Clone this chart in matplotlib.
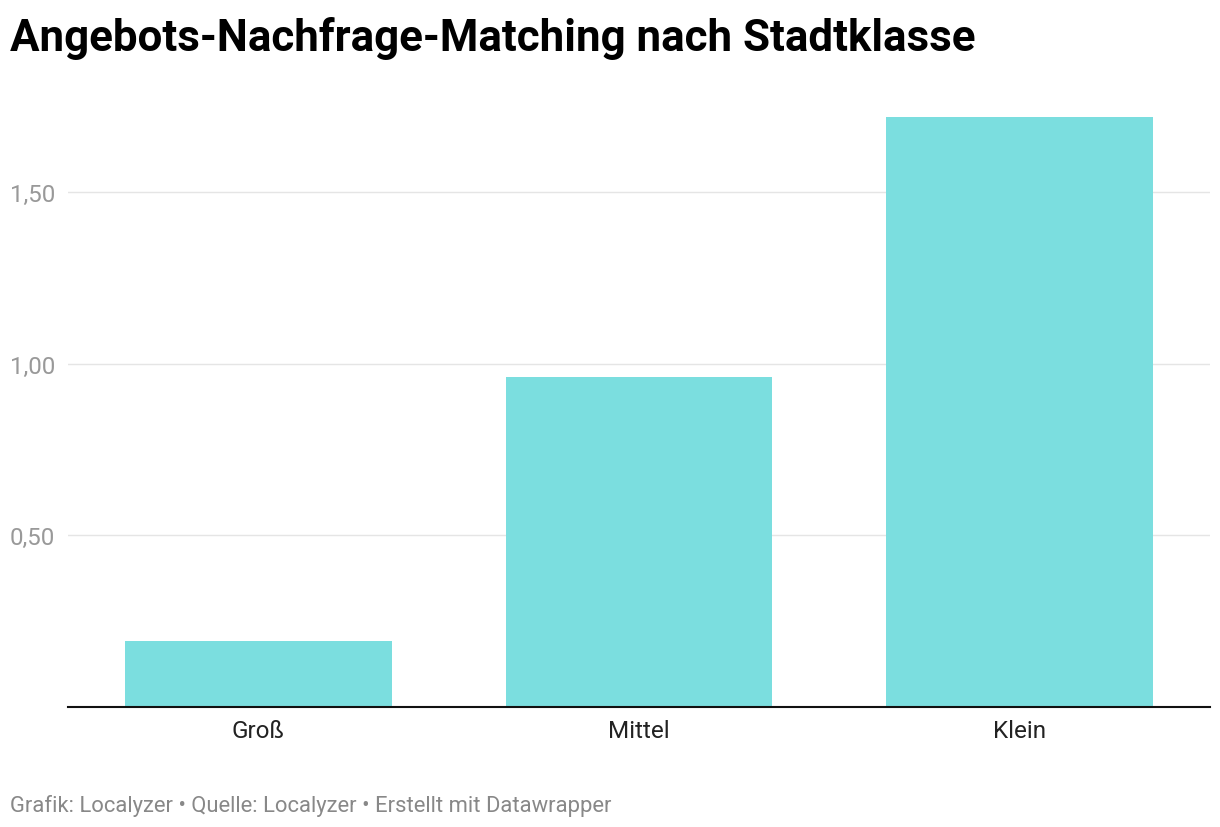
import matplotlib.pyplot as plt

# Data
categories = ['Groß', 'Mittel', 'Klein']
values = [0.19, 0.96, 1.72]
y_ticks = [0.5, 1.0, 1.5]
y_tick_labels = ['0,50', '1,00', '1,50']

plt.rcParams['font.family'] = ['Roboto', 'DejaVu Sans']

fig = plt.figure(figsize=(12.2, 8.28), dpi=100)
ax = fig.add_axes([68 / 1220, 1 - 707.5 / 828, (1210 - 68) / 1220, (707.5 - 100) / 828])

ax.bar(range(len(categories)), values, width=0.7, color='#7bdedf', zorder=2)
ax.set_xlim(-0.5, 2.5)
ax.set_ylim(0, 607.5 / 343)

# grid lines
ax.set_yticks(y_ticks)
ax.set_yticklabels(y_tick_labels, color='#999999', fontsize=17.4, ha='left')
ax.tick_params(axis='y', length=0, pad=41.8)
ax.grid(axis='y', color='#e5e5e5', linewidth=1.0, zorder=0)

ax.set_xticks(range(len(categories)))
ax.set_xticklabels(categories, color='#222222', fontsize=17.5)
ax.tick_params(axis='x', length=0, pad=9)

for side in ['top', 'right', 'left']:
    ax.spines[side].set_visible(False)
ax.spines['bottom'].set_color('#111111')
ax.spines['bottom'].set_linewidth(1.5)
ax.spines['bottom'].set_zorder(3)

fig.text(10 / 1220, 1 - 51 / 828, 'Angebots-Nachfrage-Matching nach Stadtklasse',
         fontsize=31.6, fontweight='bold', color='#000000', va='baseline', ha='left')
fig.text(10 / 1220, 1 - 812 / 828, 'Grafik: Localyzer • Quelle: Localyzer • Erstellt mit Datawrapper',
         fontsize=15.8, color='#888888', va='baseline', ha='left')

plt.savefig('out.png', dpi=100)
